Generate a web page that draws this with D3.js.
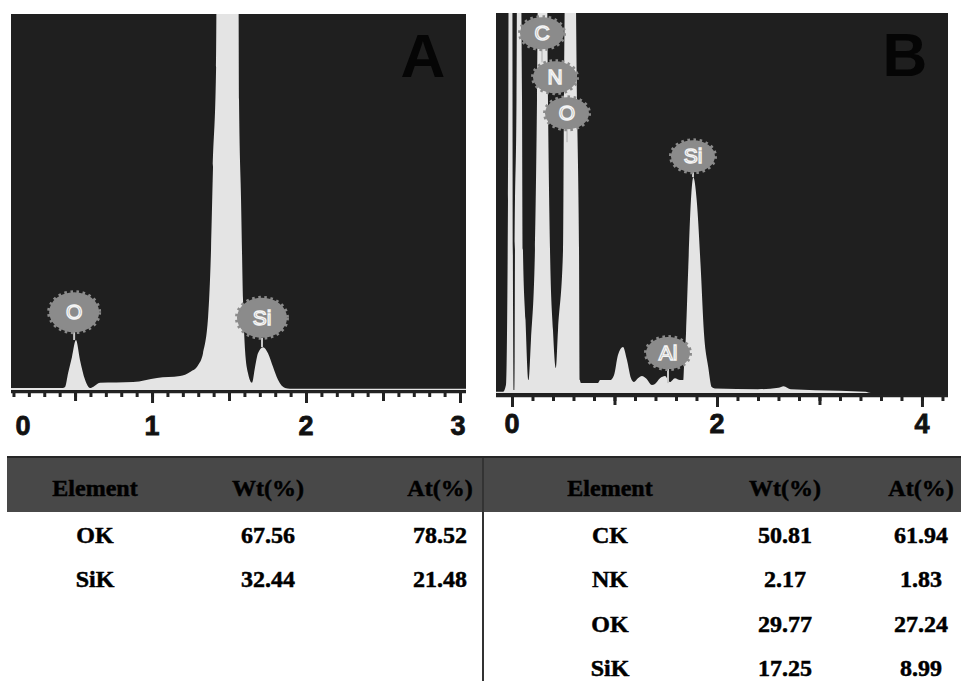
<!DOCTYPE html>
<html>
<head>
<meta charset="utf-8">
<script src="https://cdn.jsdelivr.net/npm/d3@7"></script>
<style>
  body { margin: 0; background: #fff; }
  svg { display: block; }
</style>
</head>
<body>
<div id="chart"></div>
<script>
// EDS spectrum A (energy in keV, counts in arbitrary units, big peak clipped)
const energyA = [0.084, 0.21, 0.40, 0.42, 0.435, 0.455, 0.48, 0.506, 0.532, 0.565,
  0.597, 0.617, 0.662, 0.877, 1.032, 1.182, 1.247, 1.299, 1.331, 1.364,
  1.383, 1.396, 1.416, 1.422, 1.49, 1.558, 1.565, 1.578, 1.591, 1.604,
  1.623, 1.649, 1.669, 1.688, 1.721, 1.753, 1.786, 1.818, 1.864, 1.896, 3.039];
const countsA = [5, 5, 5, 5, 8, 45, 88, 133, 80, 27,
  5, 8, 19, 21, 32, 37, 48, 66, 98, 194,
  372, 593, 859, 1400, 1400, 1400, 771, 505, 239, 106,
  45, 19, 61, 98, 114, 98, 61, 27, 5, 3, 3];

// EDS spectrum B
const energyB = [-0.156, -0.088, -0.059, -0.039, -0.029, 0.0, 0.01, 0.015, 0.024, 0.029,
  0.044, 0.054, 0.073, 0.098, 0.107, 0.132, 0.161, 0.185, 0.224, 0.244,
  0.263, 0.332, 0.351, 0.371, 0.4, 0.429, 0.449, 0.498, 0.507, 0.537,
  0.605, 0.634, 0.654, 0.663, 0.673, 0.839, 0.859, 0.956, 0.995, 1.034,
  1.083, 1.122, 1.161, 1.19, 1.229, 1.268, 1.307, 1.366, 1.395, 1.444,
  1.493, 1.541, 1.59, 1.639, 1.671, 1.678, 1.698, 1.72, 1.746, 1.769,
  1.802, 1.841, 1.873, 1.915, 1.948, 1.98, 2.4, 2.6, 2.65, 2.72,
  3.2, 3.45, 3.5, 4.254];
const countsB = [3, 3, 21, 508, 1400, 1400, 245, 8, 8, 376,
  771, 1400, 1400, 771, 376, 192, 34, 139, 376, 771,
  1400, 1400, 771, 376, 166, 66, 166, 376, 771, 1400,
  1400, 771, 376, 34, 26, 26, 34, 34, 47, 100,
  121, 87, 39, 29, 39, 45, 39, 21, 24, 39,
  45, 29, 39, 34, 34, 68, 158, 331, 508, 568,
  508, 331, 158, 68, 16, 12, 10, 14, 18, 10,
  6, 3, 0, 0];

// peak labels: element, energy of the badge, badge height (counts), end of its stem (counts)
const peakNamesA = ["O", "Si"];
const peakEnergyA = [0.494, 1.714];
const peakLabelA = [207, 192];
const peakStemA = [133, 114];

const peakNamesB = ["C", "N", "O", "Si", "Al"];
const peakEnergyB = [0.293, 0.42, 0.537, 1.766, 1.522];
const peakLabelB = [947, 831, 736, 623, 105];
const peakStemB = [870, 831, 660, 568, 26];

const majorTicksA = [0, 1, 2, 3];
const midTicksA = [0.5, 1.5, 2.5];
const majorTicksB = [0, 2, 4];
const midTicksB = [1, 3];

// table
const columns = ["Element", "Wt(%)", "At(%)"];
const tableElemA = ["OK", "SiK"];
const tableWtA = ["67.56", "32.44"];
const tableAtA = ["78.52", "21.48"];
const tableElemB = ["CK", "NK", "OK", "SiK"];
const tableWtB = ["50.81", "2.17", "29.77", "17.25"];
const tableAtB = ["61.94", "1.83", "27.24", "8.99"];

const W = 961, H = 681;
const bg = "#1f1f1f", fillLight = "#e4e4e4", badge = "#8b8b8b";

const svg = d3.select("#chart").append("svg")
    .attr("width", W)
    .attr("height", H);

const panels = [
  { key: "A", energy: energyA, counts: countsA, left: 11, right: 466, top: 14, zero: 390, bottom: 391, axisY: 392,
    domain: [0.084, 3.039], minor: d3.range(1, 31).map(i => i / 10), mid: midTicksA, major: majorTicksA,
    names: peakNamesA, pe: peakEnergyA, pl: peakLabelA, ps: peakStemA, rx: 25, ry: 20, labelY: 435 },
  { key: "B", energy: energyB, counts: countsB, left: 496, right: 948, top: 13, zero: 393, bottom: 395, axisY: 396,
    domain: [-0.156, 4.254], minor: d3.range(0, 22).map(i => i / 5), mid: midTicksB, major: majorTicksB,
    names: peakNamesB, pe: peakEnergyB, pl: peakLabelB, ps: peakStemB, rx: 22, ry: 16, labelY: 433 }
];

panels.forEach(p => {
    const x = d3.scaleLinear().domain(p.domain).range([p.left, p.right]);
    const y = d3.scaleLinear().domain([0, 1000]).range([p.zero, p.top]);
    const g = svg.append("g");

    g.append("clipPath").attr("id", "clip" + p.key)
      .append("rect")
        .attr("x", p.left).attr("y", p.top)
        .attr("width", p.right - p.left).attr("height", p.bottom - p.top);

    g.append("rect")
        .attr("x", p.left).attr("y", p.top)
        .attr("width", p.right - p.left).attr("height", p.bottom - p.top)
        .attr("fill", bg);

    const pts = p.energy.map((e, i) => ({ e: e, c: p.counts[i] }));
    const area = d3.area()
        .x(d => x(d.e))
        .y0(y(0))
        .y1(d => y(d.c))
        .curve(d3.curveMonotoneX);

    g.append("path")
        .datum(pts)
        .attr("clip-path", `url(#clip${p.key})`)
        .attr("d", area)
        .attr("fill", fillLight);

    // panel letter
    g.append("text")
        .attr("x", p.right - 43)
        .attr("y", p.top + 63)
        .attr("text-anchor", "middle")
        .style("font-family", "'Liberation Sans', Arial, sans-serif")
        .style("font-weight", "bold")
        .style("font-size", "62px")
        .attr("fill", "#050505")
        .text(p.key);

    // peak badges
    const lab = g.append("g").attr("clip-path", `url(#clip${p.key})`);
    p.names.forEach((n, i) => {
        const cx = x(p.pe[i]), cy = y(p.pl[i]);
        lab.append("line")
            .attr("x1", cx).attr("x2", cx)
            .attr("y1", cy + p.ry).attr("y2", y(p.ps[i]))
            .attr("stroke", "#c8c8c8")
            .attr("stroke-width", 2);
        lab.append("ellipse")
            .attr("cx", cx).attr("cy", cy)
            .attr("rx", p.rx).attr("ry", p.ry)
            .attr("fill", badge)
            .attr("stroke", badge)
            .attr("stroke-width", 4)
            .attr("stroke-dasharray", "2.5 3.5");
        lab.append("text")
            .attr("x", cx).attr("y", cy + 7)
            .attr("text-anchor", "middle")
            .style("font-family", "'Liberation Sans', Arial, sans-serif")
            .style("font-size", "21px")
            .attr("fill", badge)
            .attr("stroke", "#f4f4f4")
            .attr("stroke-width", 1.4)
            .text(n);
    });

    // axis: minor, medium and major ticks
    const sizes = [[p.minor, 5], [p.mid, 9], [p.major.filter(v => v >= p.domain[0]), 11]];
    sizes.forEach(([vals, s]) => {
        const ax = g.append("g")
            .attr("transform", `translate(0,${p.axisY})`)
            .call(d3.axisBottom(x).tickValues(vals).tickSize(s).tickSizeOuter(0).tickFormat(""));
        ax.select(".domain").remove();
        ax.selectAll(".tick line").attr("stroke", "#222").attr("stroke-width", 3);
    });
    g.append("line")
        .attr("x1", p.left).attr("x2", p.right)
        .attr("y1", p.axisY).attr("y2", p.axisY)
        .attr("stroke", "#222")
        .attr("stroke-width", 2.5);

    g.selectAll(".ticklab")
        .data(p.major)
        .enter()
        .append("text")
        .attr("x", d => Math.min(Math.max(x(d), p.left + 12), p.right - 8))
        .attr("y", p.labelY)
        .attr("text-anchor", "middle")
        .style("font-family", "'Liberation Sans', Arial, sans-serif")
        .style("font-weight", "bold")
        .style("font-size", "27px")
        .attr("fill", "#111")
        .attr("stroke", "#111")
        .attr("stroke-width", 0.8)
        .text(d => d);
});

// table
const tg = svg.append("g");
tg.append("rect")
    .attr("x", 7).attr("y", 457)
    .attr("width", W - 7).attr("height", 55)
    .attr("fill", "#484848");
tg.append("line")
    .attr("x1", 7).attr("x2", W)
    .attr("y1", 457).attr("y2", 457)
    .attr("stroke", "#262626").attr("stroke-width", 2);
tg.append("line")
    .attr("x1", 483).attr("x2", 483)
    .attr("y1", 458).attr("y2", H)
    .attr("stroke", "#333").attr("stroke-width", 2);

const colXA = [95, 268, 440];
const colXB = [610, 785, 921];
const rowY = d3.scaleLinear().domain([0, 3]).range([543, 676]);

const serif = "'Liberation Serif', 'Times New Roman', serif";
function cell(x, y, t) {
    tg.append("text")
        .attr("x", x).attr("y", y)
        .attr("text-anchor", "middle")
        .style("font-family", serif)
        .style("font-weight", "bold")
        .style("font-size", "24px")
        .attr("fill", "#000")
        .attr("stroke", "#000")
        .attr("stroke-width", 0.5)
        .text(t);
}

columns.forEach((c, i) => {
    cell(colXA[i], 496, c);
    cell(colXB[i], 496, c);
});
tableElemA.forEach((e, i) => {
    cell(colXA[0], rowY(i), e);
    cell(colXA[1], rowY(i), tableWtA[i]);
    cell(colXA[2], rowY(i), tableAtA[i]);
});
tableElemB.forEach((e, i) => {
    cell(colXB[0], rowY(i), e);
    cell(colXB[1], rowY(i), tableWtB[i]);
    cell(colXB[2], rowY(i), tableAtB[i]);
});
</script>
</body>
</html>
